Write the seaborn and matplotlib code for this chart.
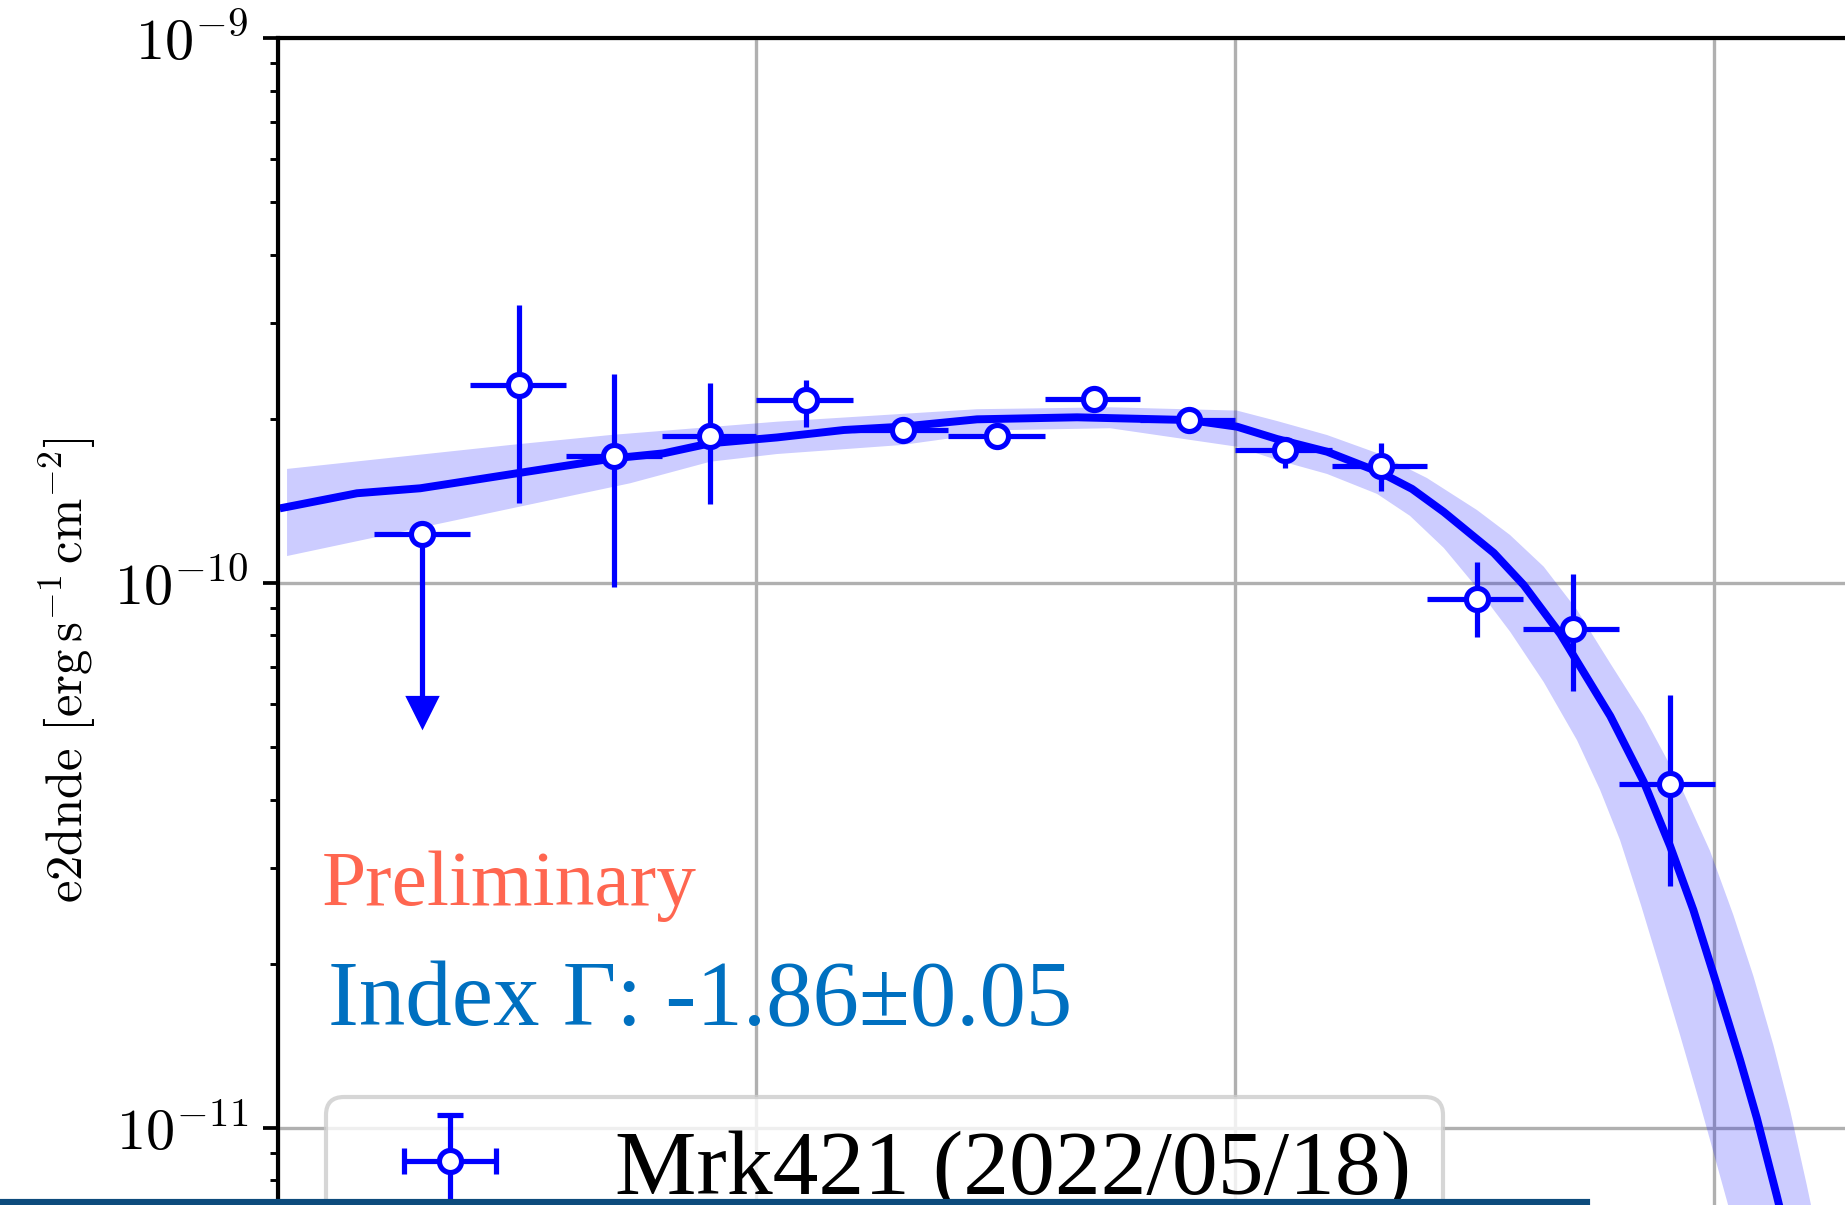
import numpy as np
import matplotlib
matplotlib.use("Agg")
import matplotlib.pyplot as plt
from matplotlib.markers import MarkerStyle
from matplotlib.transforms import Affine2D
from matplotlib.patches import Rectangle
import seaborn as sns

# ---------------- data ----------------
energy = [0.200, 0.319, 0.505, 0.801, 1.27, 2.02, 3.18, 5.07, 8.03, 12.7, 20.2, 32.0, 50.8, 80.8]
e_min = [0.159, 0.252, 0.400, 0.634, 1.00, 1.59, 2.52, 4.00, 6.34, 10.0, 15.9, 25.2, 40.0, 63.4]
e_max = [0.252, 0.400, 0.634, 1.00, 1.59, 2.52, 4.00, 6.34, 10.0, 15.9, 25.2, 40.0, 63.4, 100.5]
e2dnde = [1.23e-10, 2.31e-10, 1.71e-10, 1.86e-10, 2.16e-10, 1.91e-10, 1.86e-10,
          2.17e-10, 1.99e-10, 1.75e-10, 1.64e-10, 9.32e-11, 8.21e-11, 4.27e-11]
e2dnde_lo = [0.0, 1.40e-10, 0.983e-10, 1.394e-10, 1.932e-10, 1.84e-10, 1.79e-10,
             2.09e-10, 1.92e-10, 1.621e-10, 1.475e-10, 7.94e-11, 6.34e-11, 2.77e-11]
e2dnde_hi = [0.0, 3.23e-10, 2.415e-10, 2.328e-10, 2.354e-10, 1.99e-10, 1.93e-10,
             2.25e-10, 2.07e-10, 1.845e-10, 1.802e-10, 1.093e-10, 1.037e-10, 6.22e-11]
is_ul = [True, False, False, False, False, False, False, False, False, False, False, False, False, False]

model_x = [0.1030, 0.1466, 0.1987, 0.2570, 0.3214, 0.5036, 0.6405, 0.8016, 1.105, 1.523,
           2.016, 2.891, 4.676, 8.027, 10.09, 12.23, 15.56, 20.20, 23.42, 27.28, 34.69,
           40.07, 47.78, 60.77, 71.36, 80.96, 90.57, 101.3, 113.4, 122.9, 135.2, 147.7]
model_y = [1.373e-10, 1.459e-10, 1.490e-10, 1.543e-10, 1.591e-10, 1.691e-10, 1.727e-10,
           1.802e-10, 1.847e-10, 1.906e-10, 1.933e-10, 1.994e-10, 2.011e-10, 1.988e-10,
           1.933e-10, 1.835e-10, 1.739e-10, 1.590e-10, 1.486e-10, 1.348e-10, 1.134e-10,
           9.90e-11, 8.05e-11, 5.69e-11, 4.31e-11, 3.29e-11, 2.51e-11, 1.835e-11,
           1.331e-11, 1.042e-11, 7.52e-12, 5.48e-12]

band_up_x = [0.1047, 0.3063, 0.4956, 1.105, 2.891, 5.487, 10.09, 12.23, 15.56, 19.79, 25.16,
             32.01, 37.52, 44.11, 51.77, 60.76, 71.36, 83.75, 98.14, 109.8, 120.9, 133.1,
             144.2, 156.3, 174.8]
band_up_y = [1.617e-10, 1.789e-10, 1.866e-10, 1.974e-10, 2.081e-10, 2.098e-10, 2.069e-10,
             1.980e-10, 1.866e-10, 1.729e-10, 1.556e-10, 1.359e-10, 1.223e-10, 1.070e-10,
             8.91e-11, 7.11e-11, 5.69e-11, 4.38e-11, 3.22e-11, 2.456e-11, 1.898e-11,
             1.418e-11, 1.078e-11, 7.85e-12, 4.93e-12]
band_lo_x = [0.1047, 0.3063, 0.5455, 0.8016, 1.105, 2.016, 3.393, 5.487, 10.09, 12.23, 15.56,
             19.79, 23.19, 27.28, 32.01, 37.56, 44.11, 51.77, 57.82, 63.67, 70.43, 77.17,
             84.97, 93.54, 101.5, 110.7, 121.8]
band_lo_y = [1.119e-10, 1.367e-10, 1.522e-10, 1.667e-10, 1.722e-10, 1.789e-10, 1.906e-10,
             1.920e-10, 1.776e-10, 1.679e-10, 1.583e-10, 1.455e-10, 1.326e-10, 1.158e-10,
             9.78e-11, 8.12e-11, 6.57e-11, 5.14e-11, 4.17e-11, 3.37e-11, 2.56e-11,
             1.963e-11, 1.479e-11, 1.105e-11, 8.54e-12, 6.49e-12, 4.83e-12]

legend_label = "Mrk421 (2022/05/18)"
ylabel = r"e2dnde [$\mathrm{erg\,s^{-1}\,cm^{-2}}$]"
text_prelim = "Preliminary"
text_index = "Index Γ: -1.86±0.05"

# ---------------- style ----------------
plt.rcParams["font.family"] = "serif"
plt.rcParams["font.serif"] = ["cmr10", "DejaVu Serif"]
plt.rcParams["mathtext.fontset"] = "cm"
plt.rcParams["axes.formatter.use_mathtext"] = True
plt.rcParams["axes.unicode_minus"] = True

W, H, DPI = 1845, 1205, 300
fig = plt.figure(figsize=(W / DPI, H / DPI), dpi=DPI)
fig.patch.set_facecolor("white")

# the axes extends beyond the visible (cropped) area on the right and bottom
ax_left, ax_top, ax_bottom = 277.5, 37.7, 1302.3
ax_width = 1915.2
ax = fig.add_axes([ax_left / W, 1 - ax_bottom / H, ax_width / W, (ax_bottom - ax_top) / H])
ax.set_xscale("log")
ax.set_yscale("log")
ax.set_xlim(0.1, 1000)
ax.set_ylim(4.78e-12, 1e-9)
ax.set_axisbelow(True)
ax.grid(True, which="major", color="#b0b0b0", linewidth=0.8)

# model band and line
bx = list(band_up_x) + list(band_lo_x)[::-1]
by = list(band_up_y) + list(band_lo_y)[::-1]
ax.fill(bx, by, color="blue", alpha=0.2, linewidth=0, zorder=1)
sns.lineplot(x=model_x, y=model_y, ax=ax, color="blue", linewidth=1.9, zorder=2)

# flux points
x = np.array(energy)
y = np.array(e2dnde)
ul = np.array(is_ul)
yerr_lo = np.where(ul, 0.5 * y, y - np.array(e2dnde_lo))
yerr_hi = np.where(ul, 0.0, np.array(e2dnde_hi) - y)
xerr = [x - np.array(e_min), np.array(e_max) - x]
eb = ax.errorbar(x, y, xerr=xerr, yerr=[yerr_lo, yerr_hi], uplims=ul, fmt="o",
                 color="blue", ecolor="blue", ms=5.3, mfc="white", mec="blue", mew=1.25,
                 elinewidth=1.25, capsize=0, label=legend_label, zorder=3)
tri = MarkerStyle("v", transform=Affine2D().translate(0, -0.5))
for cl in eb.lines[1]:
    cl.set_marker(tri)
    cl.set_markersize(6.3)
    cl.set_markerfacecolor("blue")
    cl.set_markeredgecolor("blue")
    cl.set_markeredgewidth(1.25)

# axes cosmetics
ax.tick_params(axis="y", which="major", length=3.5, width=0.9, labelsize=14, direction="out",
               left=True, right=False)
ax.tick_params(axis="y", which="minor", length=2.0, width=0.7, direction="out", left=True,
               right=False, labelleft=False)
ax.tick_params(axis="x", which="both", top=False, labelbottom=False)
for s in ax.spines.values():
    s.set_linewidth(1.0)
ax.set_ylabel(ylabel, fontsize=12.2)
ax.set_xlabel("")

# legend: its lower part is hidden below the visible area, as in the reference
leg = ax.legend(loc="upper left", bbox_to_anchor=(326 / W, 1 - 1097 / H),
                bbox_transform=fig.transFigure, borderaxespad=0.0, borderpad=0.35,
                prop={"family": "Liberation Serif", "size": 22})

# slide annotations
fig.text(321.7 / W, 1 - 905 / H, text_prelim, family="Liberation Serif", fontsize=19.05,
         color="#FF6650", ha="left", va="baseline")
fig.text(328 / W, 1 - 1025 / H, text_index, family="Liberation Serif", fontsize=22.3,
         color="#0070C0", ha="left", va="baseline")

# slide footer bar
fig.add_artist(Rectangle((0, 0), 1588 / W, 4.5 / H, transform=fig.transFigure,
                         color="#0D4B7C", zorder=10))

fig.savefig("out.png", dpi=DPI)
